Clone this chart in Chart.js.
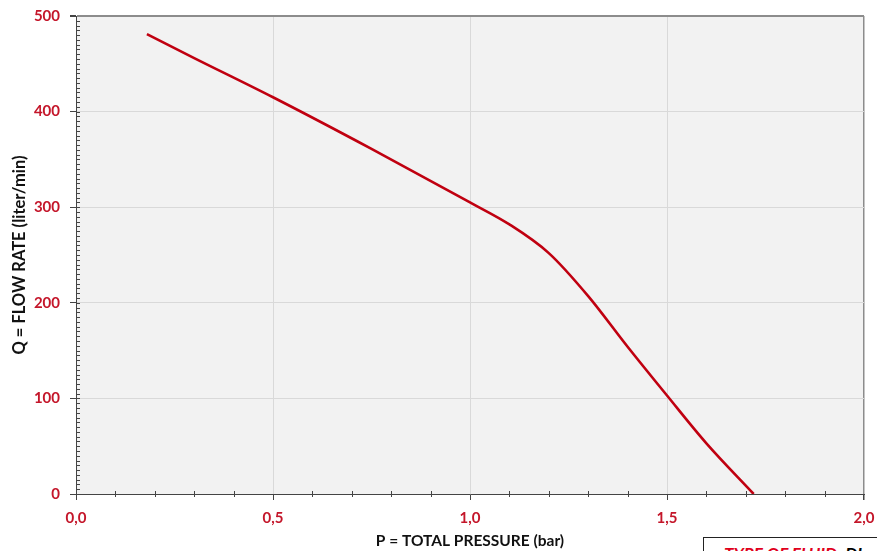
<!DOCTYPE html>
<html>
<head>
<meta charset="utf-8">
<script src="https://cdn.jsdelivr.net/npm/chart.js@4"></script>
<style>
  html, body { margin: 0; padding: 0; background: #fff; overflow: hidden; }
  #wrap { position: relative; width: 877px; height: 551px; }
  #fluid {
    position: absolute; left: 703px; top: 537px; width: 200px; height: 40px;
    border: 1.5px solid #222; background: #fff; box-sizing: border-box;
    font: italic bold 17px Lato, sans-serif; padding: 5px 0 0 20px; white-space: nowrap;
  }
  #fluid .lbl { color: #e0001b; text-decoration: underline; }
</style>
</head>
<body>
<div id="wrap">
  <canvas id="pumpCurve" width="877" height="551"></canvas>
  <div id="fluid"><span class="lbl">TYPE OF FLUID:</span> DI</div>
</div>
<script>
// pressure (bar) vs flow rate (liter/min)
const pressure = [0.18, 0.30, 0.50, 0.75, 1.00, 1.10, 1.20, 1.30, 1.40, 1.50, 1.60, 1.72];
const flowRate = [481, 456, 415, 361, 305, 282, 252, 207, 154, 103, 53, 0];

const xTickLabels = ['0,0', '0,5', '1,0', '1,5', '2,0'];
const yTickLabels = ['0', '100', '200', '300', '400', '500'];

const red = '#c4162a';
const font = 'Lato';

const plotBg = {
    id: 'plotBg',
    beforeDraw(chart) {
        const { ctx, chartArea: a } = chart;
        ctx.save();
        ctx.fillStyle = '#f2f2f2';
        ctx.fillRect(a.left, a.top, a.right - a.left, a.bottom - a.top);
        ctx.restore();
    }
};

// small minor ticks like the spreadsheet chart
const minorTicks = {
    id: 'minorTicks',
    afterDatasetsDraw(chart) {
        const { ctx, chartArea: a, scales } = chart;
        ctx.save();
        ctx.strokeStyle = '#444';
        ctx.lineWidth = 1;
        ctx.beginPath();
        for (let v = 5; v < 500; v += 5) {
            const y = Math.round(scales.y.getPixelForValue(v)) + 0.5;
            ctx.moveTo(a.left, y);
            ctx.lineTo(a.left + 4, y);
        }
        for (let i = 1; i < 20; i++) {
            if (i % 5 === 0) continue;
            const x = Math.round(scales.x.getPixelForValue(i / 10)) + 0.5;
            ctx.moveTo(x, a.bottom - 3);
            ctx.lineTo(x, a.bottom + 3);
        }
        ctx.stroke();
        ctx.restore();
    }
};

new Chart(document.getElementById('pumpCurve'), {
    type: 'line',
    data: {
        datasets: [{
            data: pressure.map((p, i) => ({ x: p, y: flowRate[i] })),
            borderColor: '#c00010',
            borderWidth: 2.6,
            pointRadius: 0,
            fill: false,
            cubicInterpolationMode: 'monotone'
        }]
    },
    options: {
        responsive: false,
        animation: false,
        layout: { padding: { top: 16, right: 13, left: 0, bottom: 0 } },
        plugins: {
            legend: { display: false },
            tooltip: { enabled: false }
        },
        scales: {
            x: {
                type: 'linear',
                min: 0,
                max: 2,
                afterFit: s => { s.height = 57; s.paddingLeft = 0; s.paddingRight = 0; },
                ticks: {
                    stepSize: 0.5,
                    padding: 9,
                    color: red,
                    font: { family: font, size: 15, weight: 'bold' },
                    callback: (v, i) => xTickLabels[i]
                },
                grid: {
                    color: c => c.tick && c.tick.value === 2 ? '#8c8c8c' : '#d9d9d9',
                    lineWidth: c => c.tick && c.tick.value === 2 ? 1.5 : 1,
                    tickLength: 6,
                    tickColor: '#444'
                },
                border: { color: '#444', width: 1 },
                title: {
                    display: true,
                    text: 'P = TOTAL PRESSURE (bar)',
                    color: '#111',
                    font: { family: font, size: 15.5, weight: 'bold' },
                    padding: { top: 0, bottom: 1 }
                }
            },
            y: {
                min: 0,
                max: 500,
                afterFit: s => { s.width = 76; s.paddingTop = 0; s.paddingBottom = 0; },
                ticks: {
                    stepSize: 100,
                    padding: 10,
                    color: red,
                    font: { family: font, size: 15, weight: 'bold' },
                    callback: (v, i) => yTickLabels[i]
                },
                grid: {
                    color: c => c.tick && c.tick.value === 500 ? '#8c8c8c' : '#d9d9d9',
                    lineWidth: c => c.tick && c.tick.value === 500 ? 2 : 1,
                    tickLength: 6,
                    tickColor: '#444'
                },
                border: { color: '#444', width: 1 },
                title: {
                    display: true,
                    text: 'Q = FLOW RATE (liter/min)',
                    color: '#111',
                    font: { family: font, size: 16.5, weight: 'bold' },
                    padding: { top: 10, bottom: 0 }
                }
            }
        }
    },
    plugins: [plotBg, minorTicks]
});
</script>
</body>
</html>
